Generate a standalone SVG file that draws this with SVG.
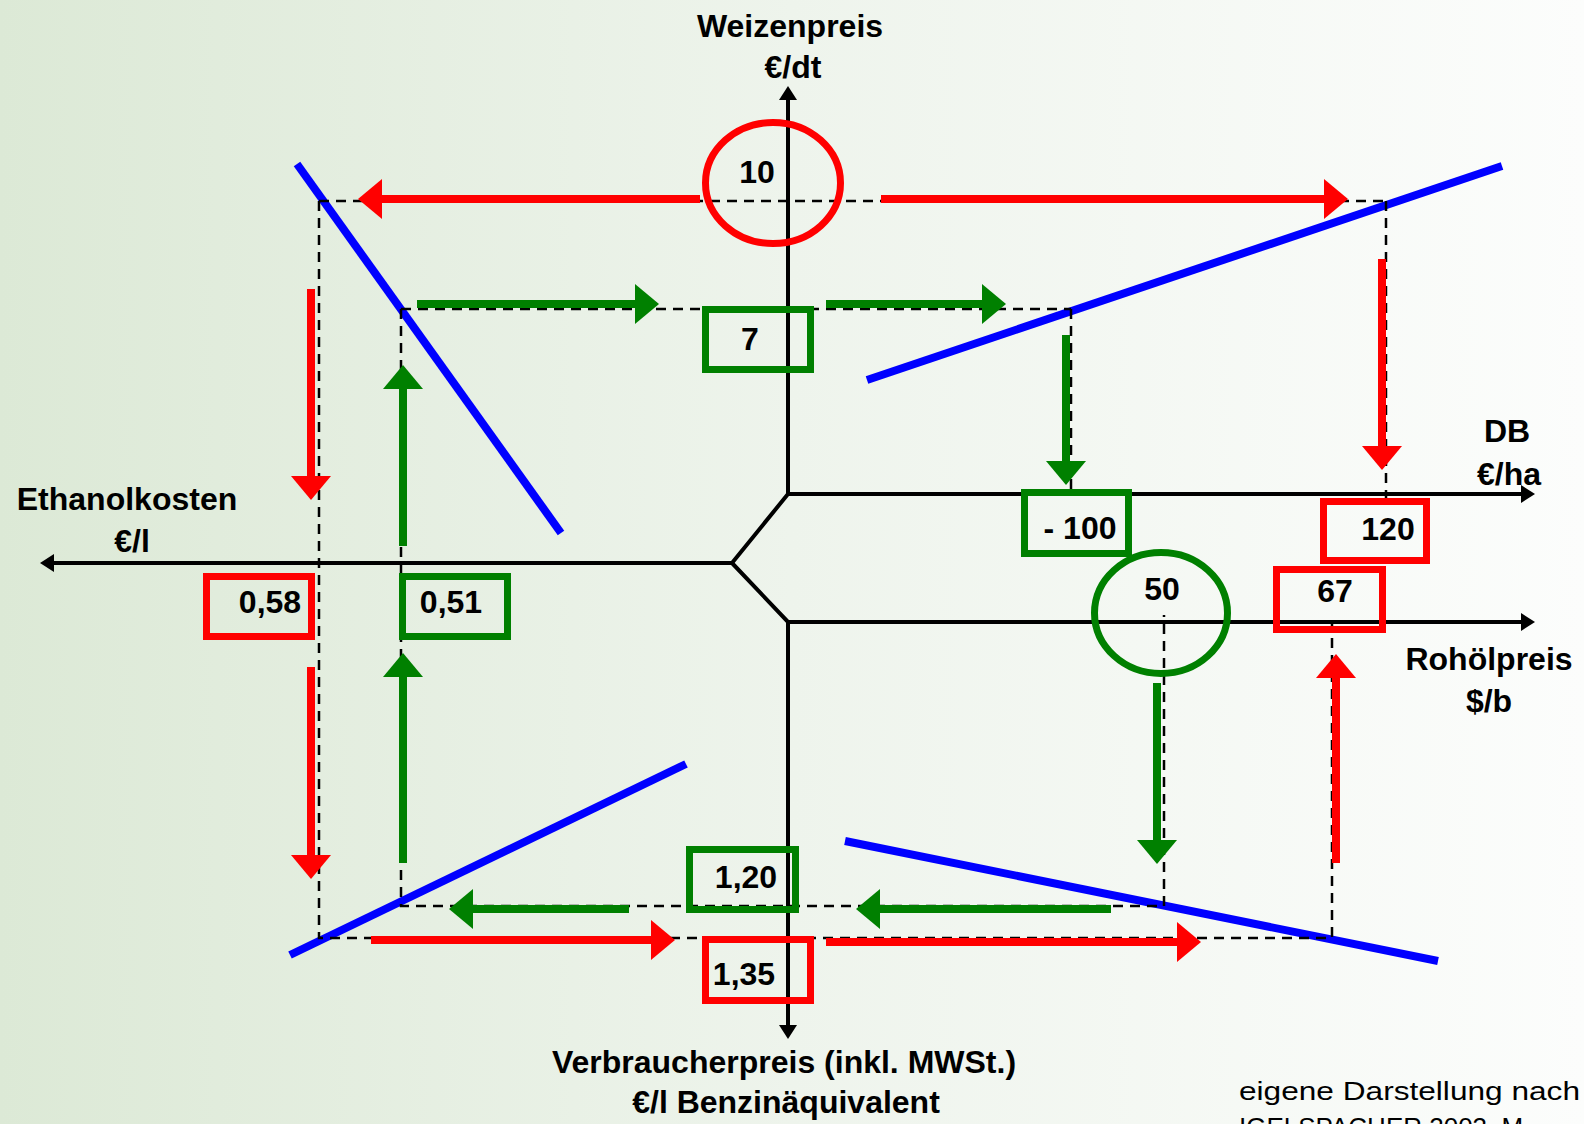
<svg xmlns="http://www.w3.org/2000/svg" width="1584" height="1124" viewBox="0 0 1584 1124">
<defs>
<linearGradient id="bg" x1="0" y1="0" x2="1" y2="0">
<stop offset="0" stop-color="#dce9d6"/>
<stop offset="0.5" stop-color="#eef4ec"/>
<stop offset="1" stop-color="#fcfdfc"/>
</linearGradient>
<marker id="hr" markerUnits="userSpaceOnUse" viewBox="0 0 24 40" refX="1" refY="20" markerWidth="24" markerHeight="40" orient="auto"><path d="M0,0 L24,20 L0,40 z" fill="#ff0000"/></marker>
<marker id="hg" markerUnits="userSpaceOnUse" viewBox="0 0 24 40" refX="1" refY="20" markerWidth="24" markerHeight="40" orient="auto"><path d="M0,0 L24,20 L0,40 z" fill="#008000"/></marker>
<marker id="hk" markerUnits="userSpaceOnUse" viewBox="0 0 14 18" refX="1" refY="9" markerWidth="14" markerHeight="18" orient="auto"><path d="M0,0 L14,9 L0,18 z" fill="#000"/></marker>
</defs>
<style>
.t{font-family:"Liberation Sans",Arial,sans-serif;font-weight:bold;font-size:32px;fill:#000;text-anchor:middle}
.f{font-family:"Liberation Sans",Arial,sans-serif;font-size:26px;fill:#000}
.ax{fill:none;stroke:#000;stroke-width:4;stroke-linejoin:miter}
.ds{fill:none;stroke:#000;stroke-width:2.5;stroke-dasharray:10 7}
.bl{stroke:#0000ff;stroke-width:8;fill:none}
.ar{stroke:#ff0000;stroke-width:8;fill:none;marker-end:url(#hr)}
.ag{stroke:#008000;stroke-width:8;fill:none;marker-end:url(#hg)}
.br{fill:none;stroke:#ff0000;stroke-width:7}
.bg{fill:none;stroke:#008000;stroke-width:7}
</style>
<rect x="0" y="0" width="1584" height="1124" fill="url(#bg)"/>

<g id="axes">
<path class="ax" d="M788,494 V99" marker-end="url(#hk)"/>
<path class="ax" d="M732,563 L788,494 H1522" marker-end="url(#hk)"/>
<path class="ax" d="M732,563 L788,622 H1522" marker-end="url(#hk)"/>
<path class="ax" d="M788,622 V1026" marker-end="url(#hk)"/>
<path class="ax" d="M732,563 H53" marker-end="url(#hk)"/>
</g>

<g id="axis-labels">
<g id="label-weizenpreis"><text class="t" x="790" y="37">Weizenpreis</text><text class="t" x="793" y="78">€/dt</text></g>
<g id="label-ethanolkosten"><text class="t" x="127" y="510">Ethanolkosten</text><text class="t" x="132" y="552">€/l</text></g>
<g id="label-db"><text class="t" x="1507" y="442">DB</text><text class="t" x="1509" y="485">€/ha</text></g>
<g id="label-rohoel"><text class="t" x="1489" y="670">Rohölpreis</text><text class="t" x="1489" y="712">$/b</text></g>
<g id="label-verbraucher"><text class="t" x="784" y="1073">Verbraucherpreis (inkl. MWSt.)</text><text class="t" x="786" y="1113">€/l Benzinäquivalent</text></g>
<g id="source"><text class="f" x="1239" y="1100" textLength="341" lengthAdjust="spacingAndGlyphs">eigene Darstellung nach</text><text class="f" x="1239" y="1136">IGELSPACHER 2003, M</text></g>
</g>

<g id="curves">
<line id="curve-ul" class="bl" x1="297" y1="164" x2="561" y2="533"/>
<line id="curve-ur" class="bl" x1="867" y1="380" x2="1502" y2="166"/>
<line id="curve-ll" class="bl" x1="290" y1="955" x2="686" y2="764"/>
<line id="curve-lr" class="bl" x1="845" y1="841" x2="1438" y2="961"/>
</g>

<g id="connectors">
<path class="ds" d="M319,201 H1386 M319,201 V938 H1332 V622 M1386,201 V505"/>
<path class="ds" d="M401,309 H1071 M401,309 V906 H1164 V615 M1071,309 V489"/>
<path class="ar" d="M700,199 H381"/>
<path class="ar" d="M881,199 H1325"/>
<path class="ar" d="M1382,259 V447"/>
<path class="ar" d="M311,289 V477"/>
<path class="ar" d="M311,667 V856"/>
<path class="ar" d="M371,940 H652"/>
<path class="ar" d="M826,942 H1178"/>
<path class="ar" d="M1336,863 V677"/>
<path class="ag" d="M417,304 H636"/>
<path class="ag" d="M826,304 H983"/>
<path class="ag" d="M1066,335 V462"/>
<path class="ag" d="M1157,683 V841"/>
<path class="ag" d="M629,909 H472"/>
<path class="ag" d="M1111,909 H879"/>
<path class="ag" d="M403,546 V388"/>
<path class="ag" d="M403,863 V676"/>
</g>

<g id="node-10"><ellipse class="br" cx="773" cy="183" rx="67.5" ry="60.5"/><text class="t" x="757" y="183">10</text></g>
<g id="node-7"><rect class="bg" x="705.5" y="309.5" width="105" height="60"/><text class="t" x="750" y="350">7</text></g>
<g id="node-m100"><rect class="bg" x="1024.5" y="492.5" width="104" height="61"/><text class="t" x="1080" y="539">- 100</text></g>
<g id="node-120"><rect class="br" x="1323.5" y="501.5" width="103" height="59"/><text class="t" x="1388" y="540">120</text></g>
<g id="node-50"><ellipse class="bg" cx="1161" cy="613" rx="66.5" ry="60.5"/><text class="t" x="1162" y="600">50</text></g>
<g id="node-67"><rect class="br" x="1276.5" y="569.5" width="106" height="60"/><text class="t" x="1335" y="602">67</text></g>
<g id="node-058"><rect class="br" x="206.5" y="576.5" width="105" height="60"/><text class="t" x="270" y="613">0,58</text></g>
<g id="node-051"><rect class="bg" x="402.5" y="576.5" width="105" height="60"/><text class="t" x="451" y="613">0,51</text></g>
<g id="node-120b"><rect class="bg" x="689.5" y="849.5" width="106" height="60"/><text class="t" x="746" y="888">1,20</text></g>
<g id="node-135"><rect class="br" x="705.5" y="939.5" width="105" height="61"/><text class="t" x="744" y="985">1,35</text></g>
</svg>
